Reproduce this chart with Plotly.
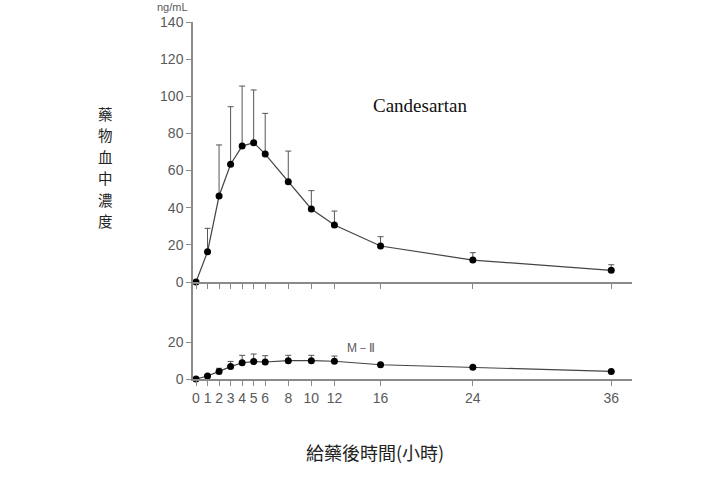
import plotly.graph_objects as go

hours = [0, 1, 2, 3, 4, 5, 6, 8, 10, 12, 16, 24, 36]
tick_labels = ["0", "1", "2", "3", "4", "5", "6", "8", "10", "12", "16", "24", "36"]

cand_mean = [0, 16.3, 46.3, 63.4, 73.2, 75.0, 68.9, 54.0, 39.3, 30.7, 19.4, 11.8, 6.3]
cand_sd = [0, 12.6, 27.5, 31.0, 32.3, 28.4, 21.9, 16.5, 9.9, 7.5, 5.0, 4.0, 3.0]

m2_mean = [0, 1.6, 4.1, 6.7, 8.8, 9.4, 9.2, 9.9, 9.9, 9.6, 7.7, 6.3, 4.1]
m2_sd = [0, 0.5, 1.7, 2.8, 4.0, 4.1, 3.4, 2.9, 2.9, 2.8, 0, 0, 0]

top_yticks = [0, 20, 40, 60, 80, 100, 120, 140]
bot_yticks = [0, 20]

y_title_chars = list("藥物血中濃度")

LINE = "#444444"
AXIS = "#8a8a8a"
TXT = "#5a5a5a"
tickfont = dict(family="Liberation Sans, Arial", size=14, color=TXT)

# plot area in screen pixels
PL, PT, PW, PH = 193, 22, 439, 357

fig = go.Figure()

def add_series(y, sd, xa, ya):
    fig.add_trace(go.Scatter(
        x=hours, y=y, xaxis=xa, yaxis=ya, mode="lines+markers",
        line=dict(color=LINE, width=1.2),
        marker=dict(color="black", size=7),
        error_y=dict(type="data", array=sd, arrayminus=[0] * len(sd), symmetric=False,
                     color="#555555", thickness=1, width=3),
        cliponaxis=False, showlegend=False, hoverinfo="skip"))

add_series(cand_mean, cand_sd, "x2", "y2")
add_series(m2_mean, m2_sd, "x", "y")

split = (379 - 282) / PH
xrange_ = [-0.26, 37.8]

common_x = dict(range=xrange_, tickvals=hours, showline=True, linecolor=AXIS, linewidth=1.5,
                ticks="outside", ticklen=5, tickcolor=AXIS, tickwidth=1, showgrid=False,
                zeroline=False)

fig.update_layout(
    width=708, height=477,
    margin=dict(l=PL, r=708 - PL - PW, t=PT, b=477 - PT - PH, autoexpand=False),
    paper_bgcolor="white", plot_bgcolor="white",
    xaxis=dict(**common_x, anchor="y", ticktext=tick_labels, tickfont=tickfont),
    xaxis2=dict(**common_x, anchor="y2", matches="x", showticklabels=False),
    yaxis=dict(domain=[0, split], range=[0, 97 / 1.85], tickvals=bot_yticks, showline=True,
               linecolor=AXIS, linewidth=1.5, ticks="outside", ticklen=5, tickcolor=AXIS,
               showgrid=False, zeroline=False, tickfont=tickfont, anchor="x"),
    yaxis2=dict(domain=[split, 1], range=[0, 140], tickvals=top_yticks, showline=True,
                linecolor=AXIS, linewidth=1.5, ticks="outside", ticklen=5, tickcolor=AXIS,
                showgrid=False, zeroline=False, tickfont=tickfont, anchor="x2"),
)

def px(xp):
    return (xp - PL) / PW

def py(yp):
    return (PT + PH - yp) / PH

fig.add_annotation(text="ng/mL", xref="paper", yref="paper", x=px(172), y=py(7),
                   xanchor="center", yanchor="middle", showarrow=False,
                   font=dict(family="Liberation Sans, Arial", size=11, color=TXT))
fig.add_annotation(text="Candesartan", xref="x2", yref="y2", x=19.4, y=95.3,
                   showarrow=False, xanchor="center", yanchor="middle",
                   font=dict(family="Liberation Serif, Times New Roman", size=19, color="#111111"))
fig.add_annotation(text="M－Ⅱ", xref="x", yref="y", x=14.3, y=16.8,
                   showarrow=False, xanchor="center", yanchor="middle",
                   font=dict(family="Liberation Sans, Arial", size=12, color=TXT))
for i, ch in enumerate(y_title_chars):
    fig.add_annotation(text=ch, xref="paper", yref="paper", x=px(105), y=py(113 + 21.5 * i),
                       xanchor="center", yanchor="middle", showarrow=False,
                       font=dict(family="Noto Sans CJK TC", size=14.5, color="#222222"))
fig.add_annotation(text="給藥後時間(小時)", xref="paper", yref="paper",
                   x=px(375), y=py(452), xanchor="center", yanchor="middle",
                   showarrow=False,
                   font=dict(family="Noto Sans CJK TC", size=18, color="#222222"))

fig.write_html("out.html", config={"displayModeBar": False},
               post_script="document.body.style.margin='0';")
